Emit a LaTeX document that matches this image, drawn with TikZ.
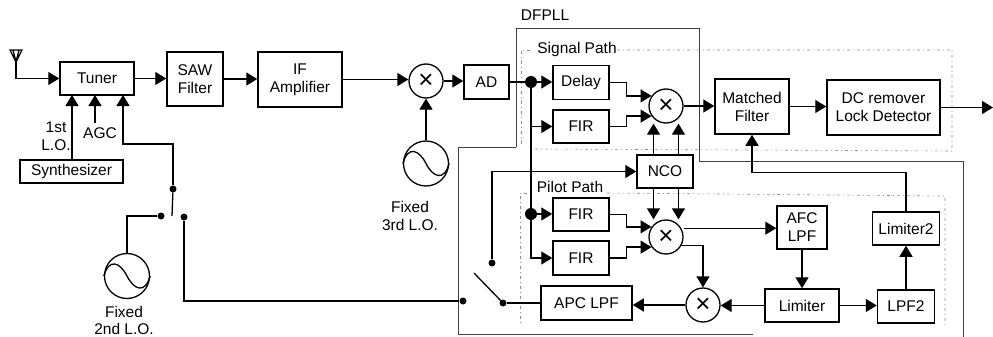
\documentclass[tikz,border=0pt]{standalone}
\usepackage{fontspec}
\setmainfont{Liberation Sans}
\usetikzlibrary{arrows.meta}
\tikzset{
    flow/.style={line width=1.3pt, -{Triangle[length=11pt,width=13pt]}},
    wire/.style={line width=1.3pt},
    block/.style={draw, line width=1.5pt, inner sep=0pt, align=center},
    mixer/.style={draw, circle, line width=1.3pt, inner sep=0pt, minimum size=34pt, font=\fontsize{26}{26}\selectfont},
    osc/.style={draw, circle, line width=1.3pt, inner sep=0pt, minimum size=45pt},
    dot/.style={circle, fill, inner sep=0pt, minimum size=7pt},
    bigdot/.style={circle, fill, inner sep=0pt, minimum size=12pt},
    caption/.style={inner sep=0pt, align=center},
    frame/.style={line width=0.7pt, black!75},
    pathframe/.style={line width=0.6pt, black!45, dash pattern=on 3pt off 3pt on 1pt off 3pt},
}
\begin{document}
\begin{tikzpicture}[x=1pt, y=-1pt, font=\fontsize{15.5}{18}\selectfont]
    \useasboundingbox (0,0) rectangle (993,337);
    % frames
    \draw[frame] (516,147)--(516,28)--(699,28)--(699,161)--(963,161)--(963,337);
    \draw[frame] (516,147)--(458,147)--(458,334)--(753,334);
    \draw[pathframe] (530,50)--(521,50)--(521,147);
    \draw[pathframe] (617,50)--(952,50)--(952,151)--(535,149);
    \draw[pathframe] (527,193)--(520,193)--(520,324);
    \draw[pathframe] (607,193)--(945,196)--(945,328);
    \node[caption] (dfpll) at (545,15) {DFPLL};
    \node[caption] (sigcap) at (577,49) {Signal Path};
    \node[caption] (pilcap) at (570,187) {Pilot Path};
    % upper chain
    \coordinate (ant) at (16,62);
    \draw[wire] (ant)--(10,50)--(22,50)--cycle (13,50)--(ant)--(19,50);
    \node[block, minimum width=74pt, minimum height=33pt] (tuner) at (97,78.5) {Tuner};
    \node[block, minimum width=56pt, minimum height=54pt] (saw) at (195,79) {SAW\\Filter};
    \node[block, minimum width=84pt, minimum height=55pt] (ifamp) at (300,79.5) {IF\\Amplifier};
    \node[mixer] (mixif) at (426,81) {×};
    \node[block, minimum width=45pt, minimum height=34pt] (ad) at (486.5,82) {AD};
    \node[bigdot] (jsig) at (531,82) {};
    \node[block, minimum width=56pt, minimum height=34pt] (delay) at (581,82.5) {Delay};
    \node[block, minimum width=56pt, minimum height=33pt] (firsig) at (581,126.5) {FIR};
    \node[mixer] (mixsig) at (666,106) {×};
    \node[block, minimum width=74pt, minimum height=55pt] (match) at (752,106.5) {Matched\\Filter};
    \node[block, minimum width=113pt, minimum height=55pt] (dcrem) at (883.5,107.5) {DC remover\\Lock Detector};
    \coordinate (out) at (993,107.5);
    % tuner inputs
    \node[block, minimum width=103pt, minimum height=23pt] (synth) at (71.5,171.5) {Synthesizer};
    \node[caption] (locap) at (56,136.5) {1st\\L.O.};
    \node[caption] (agc) at (100,133) {AGC};
    \coordinate (agcin) at (95,123);
    \node[osc] (oscb) at (127,276) {};
    \node[caption, font=\fontsize{15.5}{17}\selectfont] (oscbcap) at (124,320) {Fixed\\2nd L.O.};
    \node[osc] (oscc) at (426,163.5) {};
    \node[caption] (osccap) at (410,216) {Fixed\\3rd L.O.};
    \node[dot] (swtop) at (173,189) {};
    \node[dot] (swleft) at (161,216) {};
    \node[dot] (swright) at (184,217) {};
    \coordinate (swarm) at (172,216);
    % pilot part
    \node[block, minimum width=56pt, minimum height=33pt] (nco) at (665,171.5) {NCO};
    \node[bigdot] (jpil) at (531,214) {};
    \node[block, minimum width=56pt, minimum height=33pt] (firi) at (581,214.5) {FIR};
    \node[block, minimum width=56pt, minimum height=34pt] (firq) at (581,258) {FIR};
    \node[mixer] (mixpil) at (666,237) {×};
    \node[block, minimum width=50pt, minimum height=43pt] (afc) at (802,227.5) {AFC\\LPF};
    \node[block, minimum width=67pt, minimum height=33pt] (limtwo) at (906,228.5) {Limiter2};
    \node[mixer] (mixapc) at (703,305) {×};
    \node[block, minimum width=74pt, minimum height=33pt] (limit) at (802,305.5) {Limiter};
    \node[block, minimum width=57pt, minimum height=33pt] (lpftwo) at (906,306.5) {LPF2};
    \node[block, minimum width=91pt, minimum height=34pt] (apc) at (586.5,303) {APC LPF};
    \node[dot] (swa) at (463,301) {};
    \node[dot] (swb) at (503,303) {};
    \node[dot] (swc) at (492,263) {};
    \coordinate (swtip) at (474,273);
    % wave inside both oscillators
    \foreach \osc in {oscb,oscc}
        \draw[line width=1.3pt] (\osc.west) .. controls +(5,-18) and +(-7,-14) .. (\osc.center)
            .. controls +(7,14) and +(-5,18) .. (\osc.east);
    % connectors
    \draw[flow] (ant) |- (tuner.west);
    \draw[flow] (tuner.east) -- (saw.west |- tuner.east);
    \draw[flow] (saw.east) -- (ifamp.west |- saw.east);
    \draw[flow] (ifamp.east) -- (mixif.west |- ifamp.east);
    \draw[flow] (mixif.east) -- (ad.west |- mixif.east);
    \draw[flow] (oscc) -- (mixif);
    \draw[wire] (ad.east) -- (jsig);
    \draw[flow] (jsig) -- (delay.west |- jsig);
    \draw[wire] (jsig) -- (jpil);
    \draw[flow] (jsig |- firsig) -- (firsig.west);
    \draw[flow] (jpil) -- (firi.west |- jpil);
    \draw[flow] (jpil) |- (firq.west);
    \draw[flow] (delay.east) -- ++(17,0) |- (mixsig.145);
    \draw[flow] (firsig.east) -- ++(17,0) |- (mixsig.215);
    \draw[flow] (firi.east) -- ++(17,0) |- (mixpil.145);
    \draw[flow] (firq.east) -- ++(17,0) |- (mixpil.215);
    \draw[flow] (mixsig.225 |- nco.north) -- (mixsig.225 |- mixsig.south);
    \draw[flow] (mixsig.-45 |- nco.north) -- (mixsig.-45 |- mixsig.south);
    \draw[flow] (mixpil.135 |- nco.south) -- (mixpil.135 |- mixpil.north);
    \draw[flow] (mixpil.45 |- nco.south) -- (mixpil.45 |- mixpil.north);
    \draw[flow] (mixsig.east) -- (match.west |- mixsig.east);
    \draw[flow] (match.east) -- (dcrem.west |- match.east);
    \draw[flow] (dcrem.east) -- (out);
    \draw[flow] (limtwo.north) -- ++(0,-39) -| (match.south);
    \draw[flow] (lpftwo) -- (limtwo);
    \draw[flow] (limit.east) -- (lpftwo.west |- limit.east);
    \draw[flow] (afc) -- (limit);
    \draw[flow] (mixpil.30 -| mixpil.east) -- (afc.west |- mixpil.30);
    \draw[flow] (mixpil.-30) -| (mixapc.north);
    \draw[flow] (limit.west) -- (mixapc.east |- limit.west);
    \draw[flow] (mixapc.west) -- (apc.east |- mixapc.west);
    \draw[wire] (apc.west) -- (swb);
    \draw[wire] (swb) -- (swtip);
    \draw[flow] (swc) |- (nco.west);
    \draw[wire] (swa) -| (swright);
    \draw[wire] (swtop) -- (swarm);
    \draw[wire] (swleft) -| (oscb.north);
    \draw[flow] (swtop) |- (123,144) -- (123,95);
    \draw[flow] (synth.north -| 72,0) -- (72,95);
    \draw[flow] (agcin) -- (95,95);
\end{tikzpicture}
\end{document}
